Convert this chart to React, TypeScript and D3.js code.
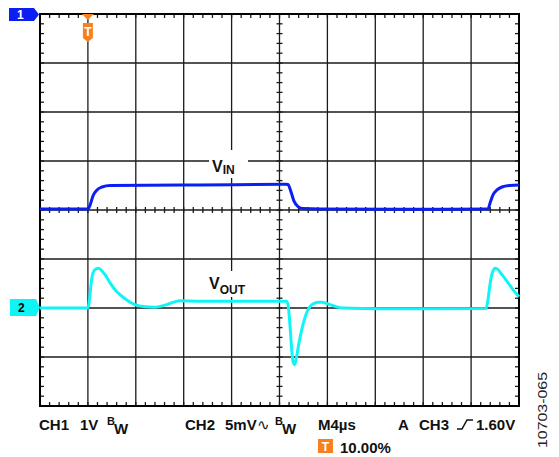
import React from "react";
import * as d3 from "d3";

// time in µs (4 µs/div, trigger at 10%)
const timeDomain: [number, number] = [-4, 36];
// CH1 VIN in volts (1 V/div, relative to screen center)
const vinTime = [-4, 0, 0.18, 0.43, 0.76, 1.18, 1.85, 9.36, 16.5, 16.71, 16.96, 17.21, 17.55, 17.96, 19.4, 26, 33.33, 33.41, 33.58, 33.83, 34.16, 34.58, 35.25, 36];
const vinVolts = [0.02, 0.02, 0.1, 0.29, 0.41, 0.47, 0.5, 0.51, 0.525, 0.52, 0.37, 0.18, 0.07, 0.03, 0.02, 0.015, 0.02, 0.02, 0.14, 0.31, 0.41, 0.47, 0.5, 0.51];
// CH2 VOUT in mV (5 mV/div, relative to CH2 ground marker)
const voutTime = [-4, 0, 0.13, 0.26, 0.43, 0.68, 0.89, 1.09, 1.43, 1.85, 2.26, 2.68, 3.27, 3.93, 4.77, 5.6, 6.44, 7.69, 9.36, 12.7, 16.58, 16.71, 16.84, 16.96, 17.13, 17.26, 17.38, 17.63, 17.96, 18.3, 18.71, 19.22, 19.55, 20.22, 21.3, 24.39, 27.73, 33.25, 33.41, 33.58, 33.75, 34.0, 34.16, 34.58, 35.08, 35.5, 36];
const voutMv = [0, 0, 0.85, 2.4, 3.6, 4.0, 4.06, 3.9, 3.4, 2.58, 1.87, 1.36, 0.8, 0.34, 0.13, 0.08, 0.29, 0.74, 0.69, 0.69, 0.69, 0.34, -1.2, -3.23, -5.48, -5.78, -5.27, -3.54, -1.7, -0.38, 0.34, 0.59, 0.59, 0.34, 0, -0.07, -0.07, -0.05, 0.85, 2.4, 3.5, 4.06, 4.0, 3.4, 2.58, 1.87, 1.15];

const BLUE = "#0b1ff2";
const CYAN = "#0ff5f5";
const ORANGE = "#f7811e";

export default function App() {
  const left = 40, right = 519, top = 14, bottom = 406;
  const x = d3.scaleLinear().domain(timeDomain).range([left, right]);
  const divY = d3.scaleLinear().domain([-4, 4]).range([bottom, top]);
  const vinY = d3.scaleLinear().domain([-4, 4]).range([bottom, top]);
  const voutY = d3.scaleLinear().domain([-10, 30]).range([bottom, top]);

  const vin = vinTime.map((t, i) => [t, vinVolts[i]] as [number, number]);
  const vout = voutTime.map((t, i) => [t, voutMv[i]] as [number, number]);
  const vinLine = d3.line<[number, number]>().x(d => x(d[0])).y(d => vinY(d[1])).curve(d3.curveMonotoneX);
  const voutLine = d3.line<[number, number]>().x(d => x(d[0])).y(d => voutY(d[1])).curve(d3.curveMonotoneX);

  const xDivs = d3.range(1, 10).map(i => timeDomain[0] + i * 4);
  const yDivs = d3.range(-3, 4);
  const xMinor = d3.range(1, 50).map(i => timeDomain[0] + i * 0.8);
  const yMinor = d3.range(1, 40).map(i => -4 + i * 0.2);
  const cx = x(16);
  const cy = divY(0);
  const gridC = "#1a1a1a";
  const font = "'Liberation Sans', Arial, sans-serif";

  return (
    <svg width={559} height={457} style={{ position: "absolute", left: 0, top: 0, background: "#fff" }} fontFamily={font}>
      <rect x={0} y={0} width={559} height={457} fill="#fff" />
      {/* grid */}
      {xDivs.map((t, i) => (
        <line key={"gx" + i} x1={x(t)} x2={x(t)} y1={top} y2={bottom} stroke={gridC} strokeWidth={1.3} />
      ))}
      {yDivs.map((d, i) => (
        <line key={"gy" + i} x1={left} x2={right} y1={divY(d)} y2={divY(d)} stroke={gridC} strokeWidth={1.3} />
      ))}
      {/* minor ticks */}
      {xMinor.map((t, i) => (
        <g key={"mx" + i} stroke={gridC} strokeWidth={1.3}>
          <line x1={x(t)} x2={x(t)} y1={top} y2={top + 4} />
          <line x1={x(t)} x2={x(t)} y1={bottom} y2={bottom - 4} />
          <line x1={x(t)} x2={x(t)} y1={cy - 3} y2={cy + 3} />
        </g>
      ))}
      {yMinor.map((d, i) => (
        <g key={"my" + i} stroke={gridC} strokeWidth={1.3}>
          <line x1={left} x2={left + 4} y1={divY(d)} y2={divY(d)} />
          <line x1={right} x2={right - 4} y1={divY(d)} y2={divY(d)} />
          <line x1={cx - 3} x2={cx + 3} y1={divY(d)} y2={divY(d)} />
        </g>
      ))}
      <rect x={left} y={top} width={right - left} height={bottom - top} fill="none" stroke="#000" strokeWidth={2} />

      {/* labels with white backgrounds */}
      <rect x={209} y={150} width={39} height={28} fill="#fff" />
      <text x={212} y={172} fontSize={16} fontWeight="bold" fill="#111">
        V<tspan fontSize={12} dy={2}>IN</tspan>
      </text>
      <rect x={206} y={271} width={48} height={26} fill="#fff" />
      <text x={209} y={289} fontSize={16} fontWeight="bold" fill="#111">
        V<tspan fontSize={12} dy={5}>OUT</tspan>
      </text>

      {/* waveforms */}
      <path d={vinLine(vin) || ""} fill="none" stroke={BLUE} strokeWidth={3} strokeLinejoin="round" />
      <path d={voutLine(vout) || ""} fill="none" stroke={CYAN} strokeWidth={3} strokeLinejoin="round" />

      {/* channel markers */}
      <path d="M9,8 L34,8 L39,14.5 L34,21 L9,21 Z" fill={BLUE} />
      <text x={17} y={19} fontSize={12} fontWeight="bold" fill="#fff">1</text>
      <path d="M10,299 L36,299 L40,307.5 L36,316 L10,316 Z" fill={CYAN} />
      <text x={18} y={311.5} fontSize={12} fontWeight="bold" fill="#000">2</text>

      {/* trigger marker */}
      <path d={`M${x(0) - 6},${top} L${x(0) + 6},${top} L${x(0)},${top + 6} Z`} fill={ORANGE} />
      <path d={`M${x(0) - 5},23 L${x(0) + 5},23 L${x(0) + 5},38 L${x(0)},42 L${x(0) - 5},38 Z`} fill={ORANGE} />
      <text x={x(0)} y={36} fontSize={12} fontWeight="bold" fill="#fff" textAnchor="middle">T</text>

      {/* bottom readout */}
      <g fontSize={15} fontWeight="bold" fill="#111">
        <text x={39} y={429.5}>CH1</text>
        <text x={80} y={429.5}>1V</text>
        <text x={107} y={425} fontSize={11}>B</text>
        <text x={114} y={434}>W</text>
        <text x={185} y={429.5}>CH2</text>
        <text x={225} y={429.5}>5mV</text>
        <text x={257} y={429.5} fontWeight="normal" fontFamily="DejaVu Sans">∿</text>
        <text x={275} y={425} fontSize={11}>B</text>
        <text x={282} y={434}>W</text>
        <text x={318} y={429.5}>M4µs</text>
        <text x={398} y={429.5}>A</text>
        <text x={419} y={429.5}>CH3</text>
        <text x={476} y={429.5}>1.60V</text>
        <text x={340} y={452.5}>10.00%</text>
      </g>
      <path d="M457,429 L462,429 L467,420 L473,420" fill="none" stroke="#111" strokeWidth={1.5} />
      <rect x={318} y={439} width={15} height={14} fill={ORANGE} />
      <text x={325.5} y={451} fontSize={12} fontWeight="bold" fill="#fff" textAnchor="middle">T</text>

      <text transform="translate(547,448) rotate(-90)" fontSize={13} fill="#222" textLength={76} lengthAdjust="spacingAndGlyphs">10703-065</text>
    </svg>
  );
}
